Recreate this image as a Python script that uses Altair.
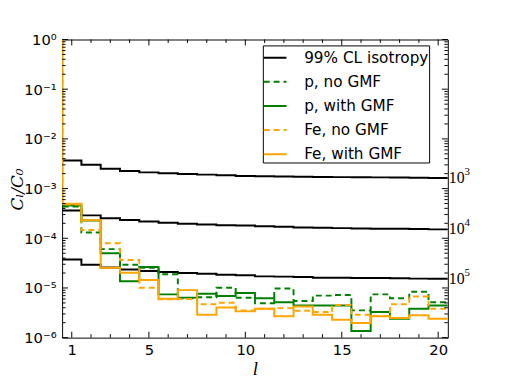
import altair as alt
import pandas as pd

ells = list(range(1, 21))

iso_labels = ["10", "10", "10"]
iso_exps = ["3", "4", "5"]

iso_1e3 = [3.66e-3, 3.01e-3, 2.51e-3, 2.25e-3, 2.12e-3, 2.03e-3, 1.96e-3, 1.91e-3, 1.85e-3, 1.79e-3,
           1.77e-3, 1.75e-3, 1.73e-3, 1.71e-3, 1.70e-3, 1.69e-3, 1.68e-3, 1.67e-3, 1.66e-3, 1.64e-3]
iso_1e4 = [3.63e-4, 2.89e-4, 2.52e-4, 2.34e-4, 2.17e-4, 2.05e-4, 1.95e-4, 1.89e-4, 1.83e-4, 1.81e-4,
           1.75e-4, 1.71e-4, 1.65e-4, 1.63e-4, 1.60e-4, 1.58e-4, 1.56e-4, 1.55e-4, 1.53e-4, 1.51e-4]
iso_1e5 = [3.72e-5, 2.92e-5, 2.58e-5, 2.36e-5, 2.19e-5, 2.09e-5, 2.00e-5, 1.94e-5, 1.85e-5, 1.81e-5,
           1.71e-5, 1.69e-5, 1.67e-5, 1.61e-5, 1.60e-5, 1.59e-5, 1.58e-5, 1.57e-5, 1.54e-5, 1.53e-5]

p_no_gmf = [4.36e-4, 1.30e-4, 6.05e-5, 2.92e-5, 2.55e-5, 1.88e-5, 6.2e-6, 6.49e-6, 1.01e-5, 6.34e-6,
            4.93e-6, 9.77e-6, 5.48e-6, 7.01e-6, 7.2e-6, 3.54e-6, 7.43e-6, 6.2e-6, 8.41e-6, 5.16e-6]
p_gmf = [4.56e-4, 2.27e-4, 4.98e-5, 1.36e-5, 2.63e-5, 7.43e-6, 6.39e-6, 7.67e-6, 6.89e-6, 7.89e-6,
         6.2e-6, 5.16e-6, 4.44e-6, 4.44e-6, 4.42e-6, 1.36e-6, 3.27e-6, 2.41e-6, 3.80e-6, 4.44e-6]
fe_no_gmf = [4.8e-4, 1.46e-4, 7.96e-5, 3.67e-5, 1.01e-5, 5.92e-6, 6.0e-6, 4.71e-6, 5.05e-6, 3.51e-6,
             3.83e-6, 3.93e-6, 3.47e-6, 3.27e-6, 4.56e-6, 2.89e-6, 2.73e-6, 4.71e-6, 6.7e-6, 3.83e-6]
fe_gmf = [4.93e-4, 2.30e-4, 2.55e-5, 2.03e-5, 1.45e-5, 6.06e-6, 9.04e-6, 2.89e-6, 4.06e-6, 3.38e-6,
          3.80e-6, 2.69e-6, 4.25e-6, 2.89e-6, 2.30e-6, 1.98e-6, 2.69e-6, 2.49e-6, 2.82e-6, 2.41e-6]
c0_ratio = 1.0  # l = 0 term, C0/C0

series_names = ["99% CL isotropy", "p, no GMF", "p, with GMF", "Fe, no GMF", "Fe, with GMF"]
series_colors = ["black", "#008000", "#008000", "#FFA500", "#FFA500"]
series_dash = [[1, 0], [6, 4], [1, 0], [6, 4], [1, 0]]

x_major = [1, 5, 10, 15, 20]
y_exps = [0, -1, -2, -3, -4, -5, -6]
sup = {"0": "⁰", "1": "¹", "2": "²", "3": "³", "4": "⁴", "5": "⁵", "6": "⁶", "-": "⁻"}

W, H = 392, 303


def steps(values, name, group, with_l0=False):
    rows = []
    if with_l0:
        rows.append({"x": -0.5, "v": c0_ratio, "series": name, "g": group})
    for l, v in zip(ells, values):
        rows.append({"x": l - 0.5, "v": v, "series": name, "g": group})
    rows.append({"x": ells[-1] + 0.5, "v": values[-1], "series": name, "g": group})
    return pd.DataFrame(rows)


iso_df = pd.concat([steps(iso_1e3, series_names[0], "1e3"),
                    steps(iso_1e4, series_names[0], "1e4"),
                    steps(iso_1e5, series_names[0], "1e5")])
colored = [(p_no_gmf, series_names[1]), (p_gmf, series_names[2]),
           (fe_no_gmf, series_names[3]), (fe_gmf, series_names[4])]

y_decades = [10.0 ** e for e in y_exps]
label_expr = ""
for e in y_exps[:-1]:
    label_expr += f"datum.value > {10.0 ** e / 2} ? '10{''.join(sup[c] for c in str(e))}' : "
label_expr += f"'10{''.join(sup[c] for c in str(y_exps[-1]))}'"

xscale = alt.Scale(domain=[0.5, 20.5], nice=False, zero=False)
yscale = alt.Scale(type="log", domain=[1e-6, 1], nice=False)

X = alt.X("x:Q", scale=xscale,
          axis=alt.Axis(values=x_major, title="l", labelPadding=5,
                        labelFont="DejaVu Sans", labelFontSize=15, labelColor="black",
                        titleFont="Liberation Serif", titleFontStyle="italic", titleColor="black",
                        titleFontSize=19, titleFontWeight="normal", titlePadding=2))
Y = alt.Y("v:Q", scale=yscale,
          axis=alt.Axis(values=y_decades, labelExpr=label_expr, title="Cₗ/C₀",
                        labelFont="DejaVu Sans", labelFontSize=15, labelColor="black",
                        labelPadding=6, titleFont="DejaVu Serif", titleFontStyle="italic",
                        titleColor="black", titleFontSize=17, titleFontWeight="normal",
                        titleX=-45, titleY=152, titleBaseline="middle", titleAlign="center"))

color = alt.Color("series:N", scale=alt.Scale(domain=series_names, range=series_colors),
                  legend=alt.Legend(title=None, orient="none", legendX=204, legendY=6,
                                    symbolType="stroke", symbolSize=529, symbolStrokeWidth=2,
                                    labelFontSize=15.5, labelFont="DejaVu Sans", labelColor="black",
                                    strokeColor="black", fillColor="white", padding=0,
                                    rowPadding=3.5, labelOffset=17, cornerRadius=0,
                                    labelLimit=300))
dash = alt.StrokeDash("series:N", scale=alt.Scale(domain=series_names, range=series_dash))

layers = []
layers.append(alt.Chart(iso_df).mark_line(interpolate="step-after", strokeWidth=2, clip=True)
              .encode(x=X, y=Y, color=color, strokeDash=dash, detail="g:N"))
for vals, name in colored:
    df = steps(vals, name, name, with_l0=True)
    layers.append(alt.Chart(df).mark_line(interpolate="step-after", strokeWidth=2, clip=True)
                  .encode(x=X, y=Y, color=color, strokeDash=dash))

# inside ticks
x_minor = [l for l in ells if l not in x_major]
y_minor = [k * 10.0 ** e for e in range(-6, 0) for k in range(2, 10)]
xmaj_df = pd.DataFrame({"x": x_major})
xmin_df = pd.DataFrame({"x": x_minor})
ymaj_df = pd.DataFrame({"v": y_decades})
ymin_df = pd.DataFrame({"v": y_minor})
for df, ln in [(xmaj_df, 6), (xmin_df, 3.5)]:
    layers.append(alt.Chart(df).mark_rule(color="black", strokeWidth=1)
                  .encode(x=X, y=alt.value(H), y2=alt.value(H - ln)))
    layers.append(alt.Chart(df).mark_rule(color="black", strokeWidth=1)
                  .encode(x=X, y=alt.value(0), y2=alt.value(ln)))
for df, ln in [(ymaj_df, 6), (ymin_df, 3.5)]:
    layers.append(alt.Chart(df).mark_rule(color="black", strokeWidth=1)
                  .encode(y=Y, x=alt.value(0), x2=alt.value(ln)))
    layers.append(alt.Chart(df).mark_rule(color="black", strokeWidth=1)
                  .encode(y=Y, x=alt.value(W), x2=alt.value(W - ln)))

# right-hand labels for the isotropy curves
lab_df = pd.DataFrame({"v": [iso_1e3[-1], iso_1e4[-1], iso_1e5[-1]],
                       "t": iso_labels, "e": iso_exps})
layers.append(alt.Chart(lab_df).mark_text(align="left", baseline="middle", dx=1,
                                          font="Liberation Serif", fontSize=16, color="black")
              .encode(y=Y, x=alt.value(W), text="t:N"))
layers.append(alt.Chart(lab_df).mark_text(align="left", baseline="middle", dx=17, dy=-6,
                                          font="Liberation Serif", fontSize=11, color="black")
              .encode(y=Y, x=alt.value(W), text="e:N"))

chart = alt.layer(*layers).properties(
    width=W, height=H, background="white",
    padding={"left": 55, "top": 29, "right": 51, "bottom": 39},
    autosize=alt.AutoSizeParams(type="none"),
).configure_view(stroke="black", strokeWidth=1).configure_axis(
    domain=False, ticks=False, grid=False
)

chart.save("out.html", embed_options={"renderer": "svg", "actions": False})
